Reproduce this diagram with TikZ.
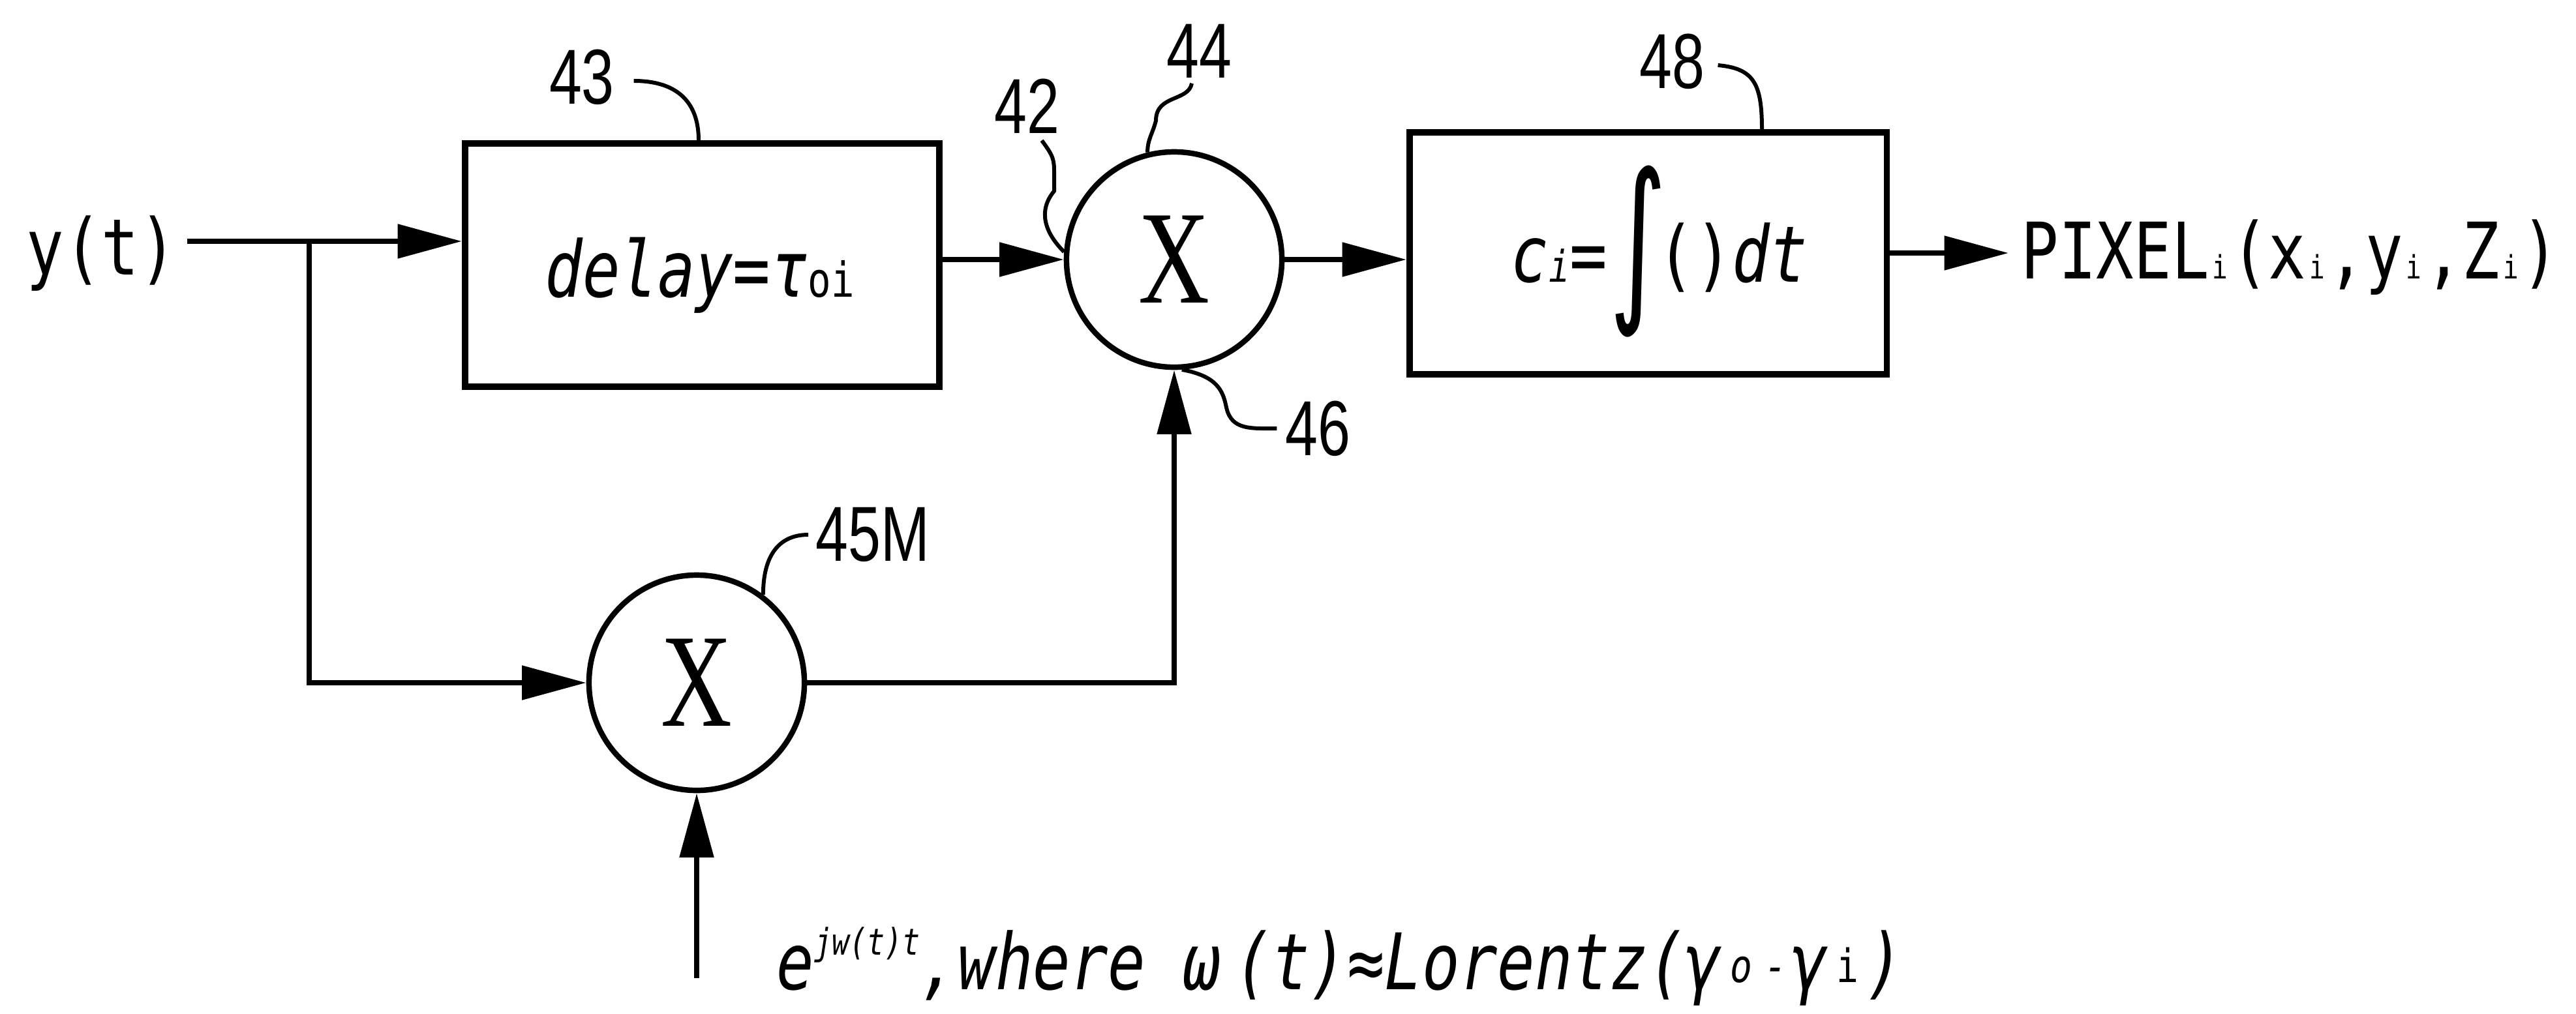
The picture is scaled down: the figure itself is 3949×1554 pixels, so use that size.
\documentclass[tikz,border=0pt]{standalone}
\usepackage{fontspec}
\usetikzlibrary{arrows.meta}
\newfontfamily\mono{DejaVu Sans Mono}[FakeStretch=0.8]
\newfontfamily\lbl{Liberation Sans}[FakeStretch=0.75]
\newfontfamily\serx{Liberation Serif}[FakeStretch=0.74]
\newfontfamily\djv{DejaVu Sans}
\newcommand\szmain{\fontsize{34}{40}\selectfont}
\newcommand\sztiny[2]{{\fontsize{#1}{#1}\selectfont #2}}
\newcommand\cellch[3]{\makebox[#1]{\fontsize{#2}{#2}\selectfont #3}}
\begin{document}
\begin{tikzpicture}[x=0.01cm,y=-0.01cm,
  sig/.style={line width=2.4pt,-{Triangle[length=28pt,width=14.5pt]}},
  lead/.style={line width=1.7pt},
  blockbox/.style={draw,line width=2.7pt,inner sep=0pt},
  mult/.style={draw,circle,line width=2.4pt,inner sep=0pt,minimum size=3.3cm,font=\serx\fontsize{58}{58}\selectfont},
  txt/.style={inner sep=0pt,font=\mono\szmain},
  num/.style={inner sep=0pt,font=\lbl\szmain}]
\useasboundingbox (0,0) rectangle (3949,1554);

% blocks
\node[blockbox,minimum width=7.27cm,minimum height=3.73cm] (delay) at (1076.5,406.5) {};
\node[blockbox,minimum width=7.31cm,minimum height=3.71cm] (integ) at (2526.5,388.5) {};
\node[mult] (m1) at (1800,398) {X};
\node[mult] (m2) at (1068,1047) {X};

% texts
\node[txt,anchor=base west] (yt) at (40,421) {y(t)};
\node[txt,anchor=base west] (dly) at (835,455) {\itshape delay=τ\sztiny{21}{\upshape oi}};
\node[txt,anchor=base west] (ci) at (2316,432) {\itshape c\sztiny{19}{i}=};
\node[inner sep=0pt] (intg) at (2511,386) {\resizebox*{25pt}{74.8pt}{\djv ∫}};
\node[txt,anchor=base west] (pdt) at (2540,432) {()\itshape dt};
\node[txt,anchor=base west] (pix) at (3098,427) {PIXEL\cellch{9.5pt}{14}{i}(x\cellch{9.5pt}{14}{i},y\cellch{9.5pt}{14}{i},Z\cellch{9.5pt}{14}{i})};
\node[txt,anchor=base west] (eq) at (1190,1517) {\itshape e\raisebox{15pt}{\sztiny{16}{jw(t)t}},where ω\hspace{6pt}(t)≈Lorentz(γ\raisebox{3pt}{\cellch{16pt}{20}{o}\cellch{14pt}{20}{-}}γ\raisebox{3pt}{\cellch{16pt}{20}{\upshape i}})};

% reference numerals
\node[num] (l43) at (892,118) {43};
\node[num] (l42) at (1574,163) {42};
\node[num] (l44) at (1838,78) {44};
\node[num] (l46) at (2020,657) {46};
\node[num] (l48) at (2563,94) {48};
\node[num] (l45) at (1338,820) {45M};

% free ends
\coordinate (in) at (287,370);
\coordinate (br) at (474,370);
\coordinate (out) at (3079,388);
\coordinate (ein) at (1068,1500);

% signal connectors
\draw[sig] (in) -- (in -| delay.west);
\draw[sig] (br) |- (m2.west);
\draw[sig] (delay.east |- m1.west) -- (m1.west);
\draw[sig] (m1.east) -- (m1.east -| integ.west);
\draw[sig] (integ.east |- out) -- (out);
\draw[sig] (m2.east) -| (m1.south);
\draw[sig] (ein) -- (m2.south);

% leader lines
\draw[lead] ([xshift=0.29cm,yshift=-0.06cm]l43.east) .. controls +(65,0) and +(0,-60) .. (delay.north -| 1071,0);
\draw[lead] ([xshift=-0.11cm,yshift=-0.08cm]l44.south) .. controls +(-5,28) and +(0,-40) .. (1772,185) .. controls +(-5,20) and +(0,-20) .. (m1.104);
\draw[lead] ([xshift=0.23cm,yshift=-0.1cm]l42.south) .. controls +(18,24) and +(0,-20) .. (1616,265) -- (1616,293) .. controls +(-25,30) and +(-30,-30) .. (m1.176);
\draw[lead] (m1.-86) .. controls +(55,10) and +(-5,-25) .. (1880,625) .. controls +(8,35) and +(-40,0) .. ([xshift=-0.12cm]l46.west);
\draw[lead] ([xshift=0.2cm,yshift=-0.06cm]l48.east) .. controls +(55,5) and +(0,-70) .. (integ.north -| 2701,0);
\draw[lead] ([xshift=-0.11cm]l45.west) .. controls +(-45,0) and +(0,-60) .. (m2.53);
\end{tikzpicture}
\end{document}
